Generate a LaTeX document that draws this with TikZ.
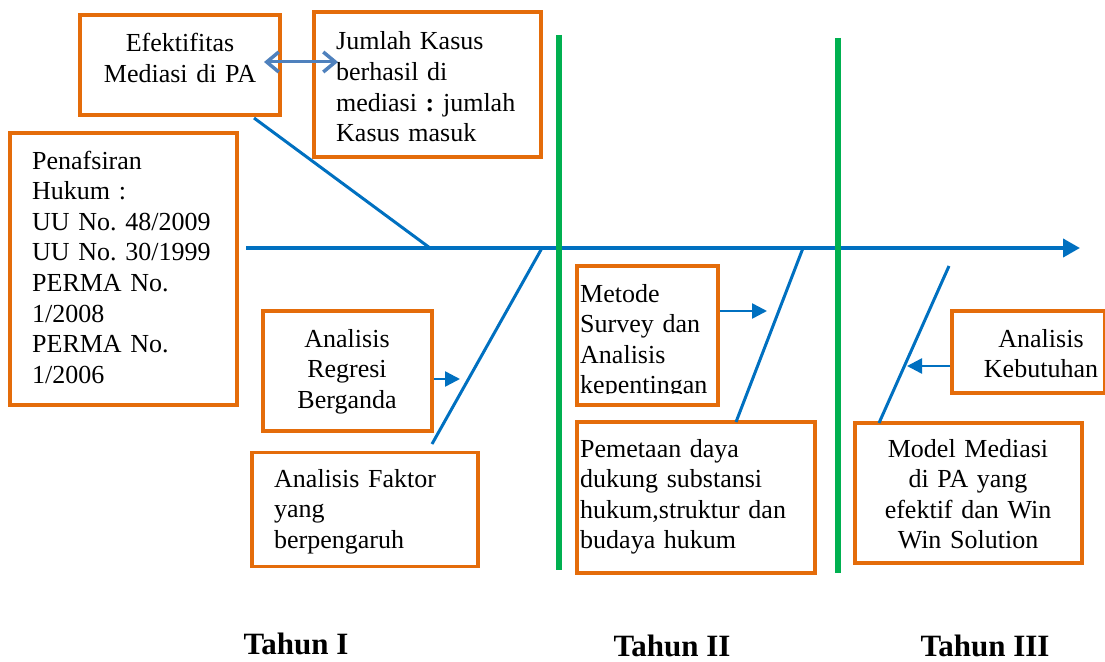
\documentclass[tikz,border=0pt]{standalone}
\usepackage{fontspec}
\setmainfont{Liberation Serif}
\usetikzlibrary{arrows.meta}
\definecolor{boxorange}{RGB}{228,108,10}
\definecolor{spineblue}{RGB}{0,112,192}
\definecolor{linkblue}{RGB}{79,129,189}
\definecolor{yeargreen}{RGB}{0,176,80}
\frenchspacing
\tikzset{
  box/.style={draw=boxorange, line width=3.5pt, fill=white, inner sep=0pt},
  txt/.style={inner sep=0pt, font=\fontsize{26}{30.6}\selectfont},
  txtl/.style={txt, anchor=base west, align=left},
  txtc/.style={txt, anchor=base, align=center},
  spine/.style={draw=spineblue, line width=4pt},
  bone/.style={draw=spineblue, line width=3pt},
  small/.style={draw=spineblue, line width=2.5pt, -{Triangle[length=15pt,width=15pt]}},
  yearline/.style={draw=yeargreen, line width=6pt},
  year/.style={inner sep=0pt, anchor=base, font=\fontsize{31}{36}\selectfont\bfseries},
  linkarrow/.style={draw=linkblue, line width=3pt,
    {Straight Barb[length=12pt,width=20pt,line width=3.5pt]}-{Straight Barb[length=12pt,width=20pt,line width=3.5pt]}},
}
\begin{document}
\begin{tikzpicture}[x=1pt,y=-1pt]
\useasboundingbox (0,0) rectangle (1105,661);

% boxes
\node[box, minimum width=200pt, minimum height=100pt] (efek) at (180,65) {};
\node[box, minimum width=227pt, minimum height=145pt] (jumlah) at (427.5,84.5) {};
\node[box, minimum width=227pt, minimum height=272pt] (penaf) at (123.5,269) {};
\node[box, minimum width=169pt, minimum height=120pt] (regresi) at (347.5,371) {};
\node[box, minimum width=226pt, minimum height=114pt] (faktor) at (365,509.5) {};
\node[box, minimum width=141pt, minimum height=139pt] (metode) at (647.5,335.5) {};
\node[box, minimum width=238pt, minimum height=151pt] (pemetaan) at (696,497.5) {};
\node[box, minimum width=153pt, minimum height=82pt] (kebutuhan) at (1028.5,352) {};
\node[box, minimum width=227pt, minimum height=140pt] (model) at (968.5,493) {};

% texts
\node[txtc, text width=200pt] (tefek) at (180,52) {Efektifitas\\Mediasi di PA};
\node[txtl, text width=210pt] (tjumlah) at (336,50) {Jumlah Kasus\\berhasil di\\mediasi \textbf{:} jumlah\\Kasus masuk};
\node[txtl, text width=205pt] (tpenaf) at (32,169) {Penafsiran\\Hukum :\\UU No. 48/2009\\UU No. 30/1999\\PERMA No.\\1/2008\\PERMA No.\\1/2006};
\node[txtc, text width=165pt] (tregresi) at (347,347) {Analisis\\Regresi\\Berganda};
\node[txtl, text width=200pt] (tfaktor) at (274,487) {Analisis Faktor\\yang\\berpengaruh};
\begin{scope}
  \clip (578,267) rectangle (716,393);
  \node[txtl, text width=160pt] (tmetode) at (580,302) {Metode\\Survey dan\\Analisis\\kepentingan};
\end{scope}
\node[txtl, text width=232pt] (tpemetaan) at (580,457) {Pemetaan daya\\dukung substansi\\hukum,struktur dan\\budaya hukum};
\node[txtc, text width=150pt] (tkebutuhan) at (1041,347) {Analisis\\Kebutuhan};
\node[txtc, text width=220pt] (tmodel) at (968,457) {Model Mediasi\\di PA yang\\efektif dan Win\\Win Solution};

% spine
\coordinate (s0) at (246,248);
\coordinate (s1) at (1080,248);
\draw[spine, -{Triangle[length=17pt,width=18pt]}] (s0) -- (s1);

% bones
\coordinate (b1a) at (254,118);
\coordinate (b1b) at (430,248);
\draw[bone] (b1a) -- (b1b);
\coordinate (b2a) at (542,248);
\coordinate (b2b) at (432,444);
\draw[bone] (b2a) -- (b2b);
\coordinate (b3a) at (803,248);
\coordinate (b3b) at (736,422);
\draw[bone] (b3a) -- (b3b);
\coordinate (b4a) at (949,266);
\coordinate (b4b) at (879,423);
\draw[bone] (b4a) -- (b4b);

% year lines
\coordinate (g1a) at (559,35);
\coordinate (g1b) at (559,570);
\draw[yearline] (g1a) -- (g1b);
\coordinate (g2a) at (838,38);
\coordinate (g2b) at (838,573);
\draw[yearline] (g2a) -- (g2b);

% small arrows
\coordinate (a1) at (460,379);
\draw[small] (regresi.east |- a1) -- (a1);
\coordinate (a2) at (767,311);
\draw[small] (metode.east |- a2) -- (a2);
\coordinate (a3) at (907,366);
\draw[small] (kebutuhan.west |- a3) -- (a3);

% double arrow
\coordinate (da) at (264,62);
\coordinate (db) at (338,62);
\draw[linkarrow] (da) -- (db);

% years
\node[year] (y1) at (296,654) {Tahun I};
\node[year] (y2) at (672,656) {Tahun II};
\node[year] (y3) at (985,656) {Tahun III};
\end{tikzpicture}
\end{document}
